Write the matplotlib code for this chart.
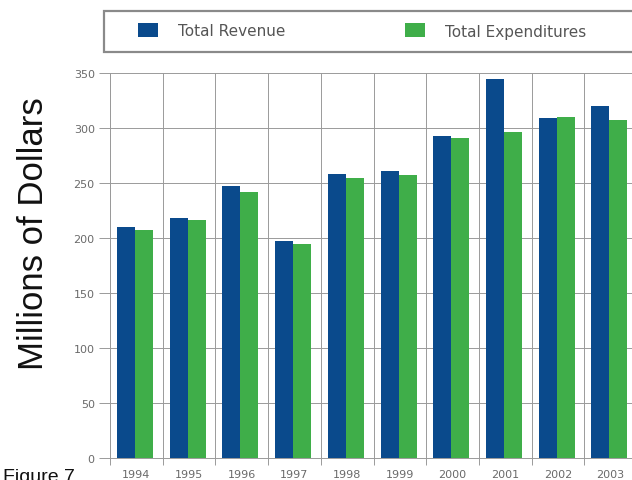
import matplotlib
matplotlib.use("Agg")
import matplotlib.pyplot as plt
from matplotlib.patches import Rectangle
import numpy as np

years = ["1994", "1995", "1996", "1997", "1998", "1999", "2000", "2001", "2002", "2003"]
revenue = [210, 218, 247, 197, 258, 261, 293, 345, 309, 320]
expenditures = [207, 216, 242, 195, 255, 257, 291, 296, 310, 307]
y_ticks = [0, 50, 100, 150, 200, 250, 300, 350]

BLUE = "#0a4a8c"
GREEN = "#3fae49"
GRID = "#9a9a9a"
TICK_TEXT = "#6a6a6a"

W, H = 632, 481
fig = plt.figure(figsize=(W / 100, H / 100), dpi=100)

# plot area runs slightly past the right edge of the canvas
ax = fig.add_axes([110 / W, (H - 459) / H, (637 - 110) / W, (459 - 74) / H])

x = np.arange(len(years))
bw = 0.342
ax.bar(x + 0.304, revenue, width=bw, color=BLUE, zorder=3)
ax.bar(x + 0.646, expenditures, width=bw, color=GREEN, zorder=3)

ax.set_xlim(0, len(years))
ax.set_ylim(0, 350)

# gridlines on category boundaries and every 50
ax.set_xticks(np.arange(len(years) + 1))
ax.set_xticklabels([])
ax.set_xticks(x + 0.5, minor=True)
ax.set_xticklabels(years, minor=True)
ax.set_yticks(y_ticks)
ax.set_yticklabels([str(v) for v in y_ticks])
ax.grid(True, which="major", color=GRID, linewidth=0.7, zorder=0)

ax.tick_params(axis="x", which="major", length=5, color=GRID, width=0.7, direction="out")
ax.tick_params(axis="x", which="minor", length=0, pad=8, labelsize=8, labelcolor=TICK_TEXT)
ax.tick_params(axis="y", length=8, color=GRID, width=0.7, pad=3, labelsize=8, labelcolor=TICK_TEXT)

for side in ("top", "right"):
    ax.spines[side].set_visible(False)
for side in ("left", "bottom"):
    ax.spines[side].set_color(GRID)
    ax.spines[side].set_linewidth(0.7)

for lab in ax.get_xticklabels(minor=True) + ax.get_yticklabels():
    lab.set_family("DejaVu Sans")

# legend box across the top
def px(xp, yp):
    return xp / W, 1 - yp / H

lx, ly = px(104, 53)
fig.patches.append(Rectangle((lx, ly), (640 - 104) / W, 41 / H, transform=fig.transFigure,
                             facecolor="white", edgecolor="#8a8a8a", linewidth=1.6))
for (x0, label, color, tx) in [(138, "Total Revenue", BLUE, 178), (405, "Total Expenditures", GREEN, 445)]:
    rx, ry = px(x0, 38)
    fig.patches.append(Rectangle((rx, ry), 20 / W, 14 / H, transform=fig.transFigure,
                                 facecolor=color, edgecolor="none"))
    tx_, ty_ = px(tx, 32)
    fig.text(tx_, ty_, label, fontsize=11, color="#555555", family="DejaVu Sans",
             ha="left", va="center")

fig.text(34 / W, 1 - 234 / H, "Millions of Dollars", rotation=90, fontsize=25,
         family="Liberation Sans", color="#111111", ha="center", va="center")
fig.text(3 / W, 1 - 469 / H, "Figure 7", fontsize=14, family="Liberation Sans",
         color="#111111", ha="left", va="top")

fig.savefig("out.png", dpi=100, facecolor="white")
